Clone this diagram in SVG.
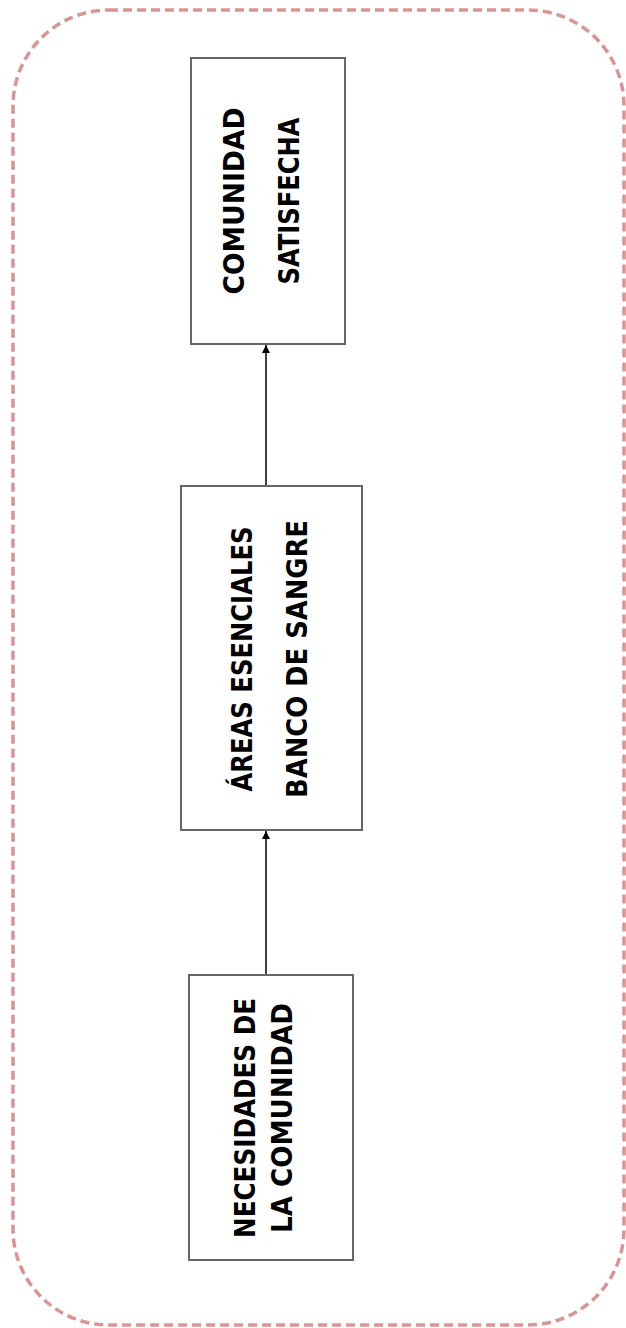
<svg xmlns="http://www.w3.org/2000/svg" width="626" height="1328" viewBox="0 0 626 1328">
  <style>
    .frame { fill: none; stroke: #d99594; stroke-width: 3.5; stroke-dasharray: 9 5; }
    .box { fill: #ffffff; stroke: #666666; stroke-width: 2; }
    .label { font-family: "DejaVu Sans", "Liberation Sans", sans-serif; font-weight: bold; font-size: 28px; fill: #000000; text-anchor: middle; }
    .link { fill: none; stroke: #000000; stroke-width: 1.5; }
  </style>
  <defs>
    <marker id="arrow" viewBox="0 0 10 10" refX="10" refY="5" markerWidth="9" markerHeight="8" markerUnits="userSpaceOnUse" orient="auto">
      <path d="M0,0 L10,5 L0,10 z" fill="#000000"/>
    </marker>
  </defs>

  <rect class="frame" x="13" y="10" width="611" height="1315" rx="96" ry="96"/>

  <g id="connectors">
    <line class="link" x1="266" y1="975" x2="266" y2="831" marker-end="url(#arrow)"/>
    <line class="link" x1="266" y1="486" x2="266" y2="345" marker-end="url(#arrow)"/>
  </g>

  <g id="comunidad-satisfecha">
    <rect class="box" x="191" y="58" width="154" height="286"/>
    <text class="label" transform="translate(244,201) rotate(-90)" textLength="187" lengthAdjust="spacingAndGlyphs">COMUNIDAD</text>
    <text class="label" transform="translate(299,201) rotate(-90)" textLength="167" lengthAdjust="spacingAndGlyphs">SATISFECHA</text>
  </g>

  <g id="areas-esenciales">
    <rect class="box" x="181" y="486" width="181" height="344"/>
    <text class="label" transform="translate(252,659) rotate(-90)" textLength="265" lengthAdjust="spacingAndGlyphs">ÁREAS ESENCIALES</text>
    <text class="label" transform="translate(307,659) rotate(-90)" textLength="278" lengthAdjust="spacingAndGlyphs">BANCO DE SANGRE</text>
  </g>

  <g id="necesidades-comunidad">
    <rect class="box" x="189" y="975" width="164" height="285"/>
    <text class="label" transform="translate(255,1118) rotate(-90)" textLength="240" lengthAdjust="spacingAndGlyphs">NECESIDADES DE</text>
    <text class="label" transform="translate(292,1118) rotate(-90)" textLength="230" lengthAdjust="spacingAndGlyphs">LA COMUNIDAD</text>
  </g>
</svg>
